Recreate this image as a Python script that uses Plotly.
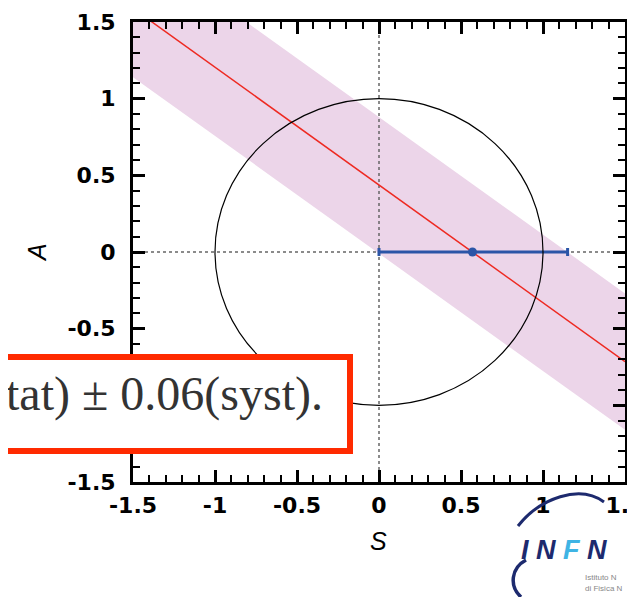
import plotly.graph_objects as go

# ---------------- data ----------------
tick_vals = [-1.5, -1.0, -0.5, 0.0, 0.5, 1.0, 1.5]
tick_text = ["-1.5", "-1", "-0.5", "0", "0.5", "1", "1.5"]

line_S = [-1.5, 1.5]          # central constraint line
line_A = [1.589, -0.715]

band_S = [-1.5, 1.5, 1.5, -1.5]   # 1-sigma band (upper edge then lower edge)
band_A = [2.03, -0.27, -1.16, 1.14]

point_S = [0.57]
point_A = [0.0]
err_S_minus = [0.57]
err_S_plus = [0.58]

axis_span = [-1.5, 1.5]
circle_radius = 1.0

box_text = "tat) \u00b1 0.06(syst)."

# ---------------- figure ----------------
OFF = 8                      # page body margin
W, H = 635 - OFF, 597 - OFF
ML, MT = 133 - OFF, 22 - OFF
PW, PH = 492, 460
MR = W - ML - PW
MB = H - MT - PH


def px(x):  # page pixel -> paper
    return (x - OFF - ML) / PW


def py(y):
    return (MT + PH - (y - OFF)) / PH


fig = go.Figure()

fig.add_trace(go.Scatter(x=band_S, y=band_A, fill="toself", mode="none",
                         fillcolor="#ecd5e9", hoverinfo="skip", showlegend=False))
fig.add_trace(go.Scatter(x=axis_span, y=[0, 0], mode="lines",
                         line=dict(color="#666666", width=1.5, dash="dot"), showlegend=False))
fig.add_trace(go.Scatter(x=[0, 0], y=axis_span, mode="lines",
                         line=dict(color="#666666", width=1.5, dash="dot"), showlegend=False))
fig.add_trace(go.Scatter(x=line_S, y=line_A, mode="lines",
                         line=dict(color="#ee2a22", width=1.5), showlegend=False))
fig.add_trace(go.Scatter(x=point_S, y=point_A, mode="markers",
                         marker=dict(color="#2b55a7", size=9),
                         error_x=dict(type="data", array=err_S_plus, arrayminus=err_S_minus,
                                      color="#2b55a7", thickness=3, width=4),
                         showlegend=False))

shapes = [
    dict(type="circle", xref="x", yref="y", x0=-circle_radius, x1=circle_radius,
         y0=-circle_radius, y1=circle_radius, line=dict(color="black", width=1.2), layer="above"),
    # red highlight box over the lower left
    dict(type="rect", xref="paper", yref="paper", x0=px(-30), x1=px(350), y0=py(451), y1=py(357),
         fillcolor="white", line=dict(color="#ff2a00", width=6), layer="above"),
    # INFN logo arcs
    dict(type="path", xref="paper", yref="paper",
         path=f"M {px(518)},{py(526)} C {px(540)},{py(498)} {px(580)},{py(484)} {px(604)},{py(502)}",
         line=dict(color="#1d2a6e", width=3), layer="above"),
    dict(type="path", xref="paper", yref="paper",
         path=f"M {px(526)},{py(560)} C {px(511)},{py(568)} {px(509)},{py(586)} {px(521)},{py(597)}",
         line=dict(color="#1d2a6e", width=3.5), layer="above"),
]

annotations = [
    dict(text=box_text, xref="paper", yref="paper", x=px(325), y=py(394),
         xanchor="right", yanchor="middle", showarrow=False,
         font=dict(family="Liberation Serif", size=48, color="#333333")),
    dict(text="A", xref="paper", yref="paper", x=px(37), y=py(253), textangle=-90,
         xanchor="center", yanchor="middle", showarrow=False,
         font=dict(family="Liberation Sans", size=25, style="italic", color="black")),
    dict(text="S", xref="paper", yref="paper", x=px(378), y=py(541),
         xanchor="center", yanchor="middle", showarrow=False,
         font=dict(family="Liberation Sans", size=25, style="italic", color="black")),
    dict(text="I N <span style='color:#3fb4e4'>F</span> N", xref="paper", yref="paper",
         x=px(519), y=py(550), xanchor="left", yanchor="middle", showarrow=False,
         font=dict(family="Liberation Sans", size=27, weight="bold", style="italic", color="#1d2a6e")),
    dict(text="Istituto N", xref="paper", yref="paper", x=px(583), y=py(577),
         xanchor="left", yanchor="middle", showarrow=False,
         font=dict(family="Liberation Sans", size=8, color="#888888")),
    dict(text="di Fisica N", xref="paper", yref="paper", x=px(583), y=py(588),
         xanchor="left", yanchor="middle", showarrow=False,
         font=dict(family="Liberation Sans", size=8, color="#888888")),
]

axis_common = dict(
    range=axis_span, showgrid=False, zeroline=False, automargin=False,
    showline=True, linecolor="black", linewidth=3, mirror="allticks",
    ticks="inside", ticklen=12, tickwidth=2.5, tickcolor="black",
    tickmode="array", tickvals=tick_vals, ticktext=tick_text,
    ticklabeloverflow="allow",
    tickfont=dict(family="DejaVu Sans", size=22, weight="bold", color="black"),
    minor=dict(ticks="inside", ticklen=7, tickwidth=2, tickcolor="black",
               tickmode="linear", tick0=0, dtick=0.1),
)

fig.update_layout(
    width=W, height=H,
    margin=dict(l=ML, r=MR, t=MT, b=MB, pad=0, autoexpand=False),
    paper_bgcolor="white", plot_bgcolor="white",
    xaxis=dict(**axis_common, ticklabelstandoff=2),
    yaxis=dict(**axis_common, ticklabelstandoff=10),
    shapes=shapes, annotations=annotations,
    showlegend=False,
)

fig.write_html("out.html")
